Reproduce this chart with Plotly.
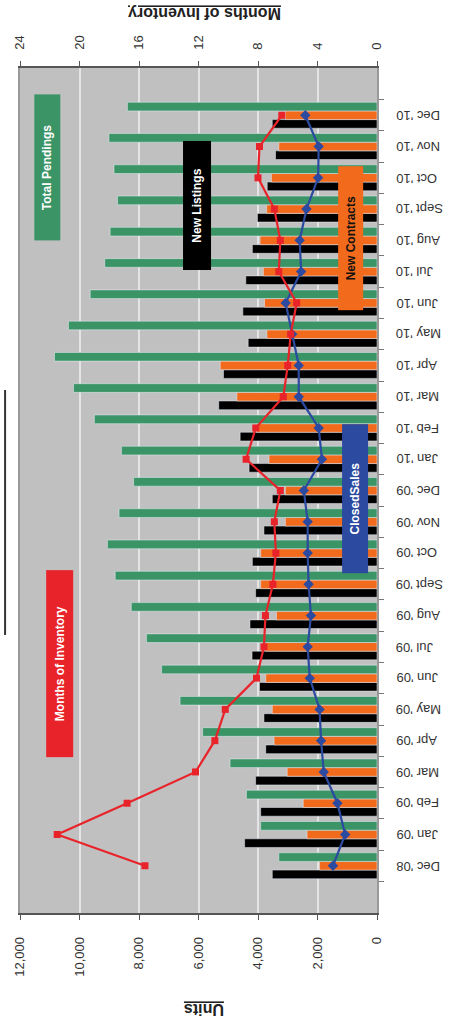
import plotly.graph_objects as go

# Monthly market figures, Dec 2008 - Dec 2010
months = ["Dec '08", "Jan '09", "Feb '09", "Mar '09", "Apr '09", "May '09", "Jun '09",
          "Jul '09", "Aug '09", "Sept '09", "Oct '09", "Nov '09", "Dec '09", "Jan '10",
          "Feb '10", "Mar '10", "Apr '10", "May '10", "Jun '10", "Jul '10", "Aug '10",
          "Sept '10", "Oct '10", "Nov '10", "Dec '10"]
new_listings = [3520, 4450, 3910, 4080, 3740, 3800, 3950, 4200, 4270, 4080, 4190, 3800, 3520,
                4300, 4600, 5320, 5160, 4330, 4510, 4410, 4190, 4020, 3690, 3410, 3520]
new_contracts = [1930, 2350, 2480, 3020, 3460, 3520, 3740, 3740, 3380, 3910, 3910, 3080, 3080,
                 3630, 4050, 4710, 5270, 3700, 3780, 3820, 3930, 3710, 3550, 3300, 3080]
total_pendings = [3300, 3910, 4390, 4940, 5860, 6620, 7240, 7750, 8260, 8800, 9060, 8670, 8180,
                  8590, 9500, 10200, 10840, 10370, 9640, 9150, 8970, 8720, 8840, 9010, 8390]
closed_sales = [1480, 1070, 1330, 1790, 1880, 1930, 2260, 2330, 2220, 2300, 2330, 2330, 2460,
                1850, 1960, 2630, 2630, 2850, 3070, 2550, 2600, 2370, 1980, 1960, 2410]
months_inventory = [15.6, 21.5, 16.8, 12.2, 10.9, 10.2, 8.1, 7.6, 7.5, 7.0, 6.8, 6.9, 6.5,
                    8.8, 8.15, 6.3, 6.0, 5.8, 5.4, 6.6, 6.5, 6.9, 8.0, 7.9, 6.4]

unit_ticks = [0, 2000, 4000, 6000, 8000, 10000, 12000]
moi_ticks = [0, 4, 8, 12, 16, 20, 24]

GREEN = "#3a9466"
ORANGE = "#f26b1d"
BLACK = "#000000"
RED = "#e8232a"
BLUE = "#2b4aa0"
FONT = "Liberation Sans, Arial, sans-serif"

fig = go.Figure()
fig.add_trace(go.Bar(y=months, x=new_listings, orientation="h", marker_color=BLACK,
                     name="New Listings"))
fig.add_trace(go.Bar(y=months, x=new_contracts, orientation="h", marker_color=ORANGE,
                     name="New Contracts"))
fig.add_trace(go.Bar(y=months, x=total_pendings, orientation="h", marker_color=GREEN,
                     name="Total Pendings"))
fig.add_trace(go.Scatter(y=months, x=closed_sales, mode="lines+markers", name="Closed Sales",
                         line=dict(color=BLUE, width=2.2),
                         marker=dict(symbol="diamond", size=8, color=BLUE)))
fig.add_trace(go.Scatter(y=months, x=months_inventory, xaxis="x2", mode="lines+markers",
                         name="Months of Inventory",
                         line=dict(color=RED, width=2.2),
                         marker=dict(symbol="square", size=7, color=RED)))

fig.update_layout(
    width=458, height=1029,
    margin=dict(l=18, r=81, t=68, b=116),
    paper_bgcolor="white",
    plot_bgcolor="#c0c0c0",
    barmode="group", bargap=0.17, bargroupgap=0,
    showlegend=False,
    font=dict(family=FONT, size=13, color="#222"),
    xaxis=dict(
        range=[12000, 0], tickvals=unit_ticks, tickformat=",", tickangle=-90,
        side="bottom", showgrid=True, gridcolor="#e4e4e4", gridwidth=1.5,
        showline=True, linecolor="#555", linewidth=1.5,
        ticks="outside", ticklen=5, tickcolor="#555", zeroline=False,
        tickfont=dict(size=13, color="#333"), ticklabelstandoff=12,
    ),
    xaxis2=dict(
        range=[24, 0], tickvals=moi_ticks, tickangle=-90, overlaying="x", side="top",
        showgrid=False, showline=True, linecolor="#555", linewidth=1.5,
        ticks="outside", ticklen=5, tickcolor="#555", zeroline=False,
        tickfont=dict(size=13, color="#333"), ticklabelstandoff=9,
    ),
    yaxis=dict(
        type="category", side="right", tickson="boundaries", showticklabels=False,
        ticks="outside", ticklen=5, tickcolor="#777",
        showline=True, linecolor="#999", linewidth=2, mirror=True,
        showgrid=False,
    ),
)

# Month labels, turned upside down beside the category axis
for m in months:
    fig.add_annotation(text=m, textangle=180, xref="paper", yref="y", x=1, y=m,
                       xanchor="left", yanchor="middle", xshift=17, showarrow=False,
                       font=dict(size=13, color="#333"))

# Axis titles, turned with the rest of the chart
fig.add_annotation(text="<b><u>Months of Inventory</u></b>", textangle=180,
                   xref="paper", yref="paper", x=(203 - 18) / 359, y=1 + (68 - 14) / 845,
                   xanchor="center", yanchor="middle",
                   showarrow=False, font=dict(size=16, color="#222"))
fig.add_annotation(text="<b><u>Units</u></b>", textangle=180,
                   xref="paper", yref="paper", x=(203 - 18) / 359, y=-(1010 - 913) / 845,
                   xanchor="center", yanchor="middle",
                   showarrow=False, font=dict(size=16, color="#222"))

# Series labels drawn as coloured tags inside the plot
tags = [
    ("Total Pendings", GREEN, "white", 11080, 0.8822, 145, 25),
    ("New Listings", BLACK, "white", 6033, 0.8367, 128, 27),
    ("New Contracts", ORANGE, "#111", 902, 0.7982, 143, 24),
    ("ClosedSales", BLUE, "white", 752, 0.4899, 148, 25),
    ("Months of Inventory", RED, "white", 10667, 0.2947, 186, 26),
]
for text, bg, fg, xv, yp, length, thick in tags:
    fig.add_annotation(text=f"<b>{text}</b>", textangle=-90, xref="x", yref="paper",
                       x=xv, y=yp, xanchor="center", yanchor="middle",
                       showarrow=False, bgcolor=bg, borderpad=0,
                       width=length, height=thick,
                       font=dict(size=12, color=fg, family=FONT))

# Underline of the chart heading along the left edge
fig.add_shape(type="line", xref="paper", yref="paper",
              x0=(3 - 18) / 359, x1=(3 - 18) / 359,
              y0=(913 - 390) / 845, y1=(913 - 635) / 845,
              line=dict(color="#333", width=2))

fig.write_html("out.html")
